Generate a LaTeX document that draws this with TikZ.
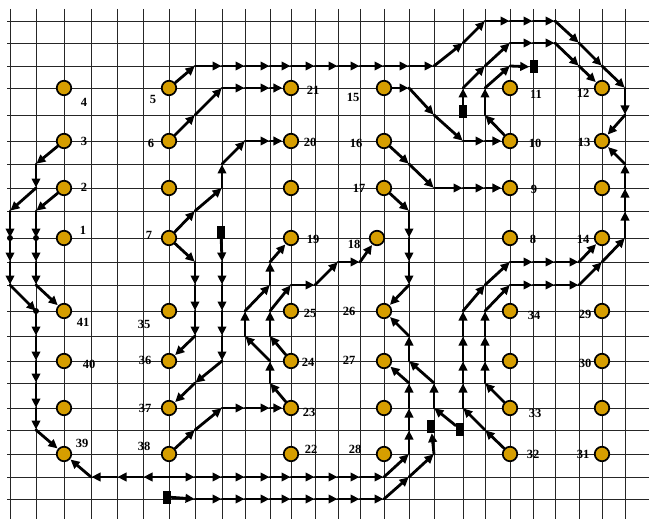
\documentclass[tikz,border=0pt]{standalone}
\usepackage{fontspec}
\setmainfont{Liberation Serif}
\usetikzlibrary{arrows.meta}
\definecolor{gold}{HTML}{D69E00}
\pgfdeclarelayer{gridl}
\pgfdeclarelayer{routel}
\pgfsetlayers{gridl,routel,main}
\newcommand\troute[1]{\foreach \pa [count=\cnt, remember=\pa as \pb] in {#1} {\ifnum\cnt>1 \draw[seg] (\pb) -- (\pa);\fi}}
\newcommand\mknode[4]{\node[pt] (n#1) at (#2) {}; \node[lbl] (l#1) at ([shift={(#3,#4)}]#2) {#1};}
\begin{document}
\begin{tikzpicture}[x=1pt,y=-1pt,
  gridline/.style={line width=0.9pt, black!85},
  seg/.style={line width=2.8pt, line cap=round, -{Triangle[length=9pt,width=8.5pt]}, shorten >=0.5pt},
  pt/.style={circle, draw=black, line width=1.7pt, fill=gold, minimum size=14.5pt, inner sep=0pt},
  lbl/.style={font=\bfseries\fontsize{12.5}{12.5}\selectfont, inner sep=0pt},
  blk/.style={fill=black, minimum width=8pt, minimum height=13pt, inner sep=0pt},
  jdot/.style={circle, fill=black, minimum size=6pt, inner sep=0pt}]
\useasboundingbox (0,0) rectangle (649,519);
\def\xs{10,36,64,91,117,143,169,195,222,245,270,291,315,338,360,384,409,434,463,485,510,533,555,579,602,625}
\def\ys{21,43,66,88,115,141,164,188,211,238,262,285,311,336,361,383,408,430,454,477,499}
\foreach \x [count=\i from 0] in \xs {\foreach \y [count=\j from 0] in \ys {\coordinate (g\i-\j) at (\x,\y);}}
\begin{pgfonlayer}{gridl}
\foreach \x in \xs {\draw[gridline] (\x,9) -- (\x,519);}
\foreach \y in \ys {\draw[gridline] (7,\y) -- (649,\y);}
\end{pgfonlayer}
% nodes column 2
\mknode{4}{g2-3}{20}{14}
\mknode{3}{g2-5}{20}{0}
\mknode{2}{g2-7}{20}{-1}
\mknode{1}{g2-9}{19}{-8}
\mknode{41}{g2-12}{19}{11}
\mknode{40}{g2-14}{25}{3}
\node[pt] (u1) at (g2-16) {};
\mknode{39}{g2-18}{18}{-11}
% column 6
\mknode{5}{g6-3}{-16}{11}
\mknode{6}{g6-5}{-18}{2}
\node[pt] (u2) at (g6-7) {};
\mknode{7}{g6-9}{-20}{-3}
\mknode{35}{g6-12}{-25}{13}
\mknode{36}{g6-14}{-24}{-1}
\mknode{37}{g6-16}{-24}{0}
\mknode{38}{g6-18}{-25}{-8}
% column 11
\mknode{21}{g11-3}{22}{2}
\mknode{20}{g11-5}{19}{1}
\node[pt] (u3) at (g11-7) {};
\mknode{19}{g11-9}{22}{1}
\mknode{25}{g11-12}{19}{2}
\mknode{24}{g11-14}{17}{1}
\mknode{23}{g11-16}{18}{4}
\mknode{22}{g11-18}{20}{-5}
% column 15
\mknode{15}{g15-3}{-31}{9}
\mknode{16}{g15-5}{-28}{2}
\mknode{17}{g15-7}{-25}{0}
\node[pt] (n18) at ([xshift=-7pt]g15-9) {};
\node[lbl] (l18) at ([shift={(-30,6)}]g15-9) {18};
\mknode{26}{g15-12}{-35}{0}
\mknode{27}{g15-14}{-35}{-1}
\node[pt] (u4) at (g15-16) {};
\mknode{28}{g15-18}{-29}{-5}
% column 20
\mknode{11}{g20-3}{26}{6}
\mknode{10}{g20-5}{25}{2}
\mknode{9}{g20-7}{24}{1}
\mknode{8}{g20-9}{23}{1}
\mknode{34}{g20-12}{24}{4}
\node[pt] (u5) at (g20-14) {};
\mknode{33}{g20-16}{25}{5}
\mknode{32}{g20-18}{23}{0}
% column 24
\mknode{12}{g24-3}{-19}{5}
\mknode{13}{g24-5}{-18}{1}
\node[pt] (u6) at (g24-7) {};
\mknode{14}{g24-9}{-19}{1}
\mknode{29}{g24-12}{-17}{3}
\mknode{30}{g24-14}{-17}{2}
\node[pt] (u7) at (g24-16) {};
\mknode{31}{g24-18}{-19}{0}
% start / end blocks
\node[blk] (r1) at ([shift={(-2,-2)}]g6-20) {};
\node[blk] (r2) at ([shift={(-1,-6)}]g8-9) {};
\node[blk] (r3) at ([shift={(0,-3)}]g18-4) {};
\node[blk] (r4) at ([shift={(1,1)}]g21-2) {};
\node[blk] (r5) at ([shift={(-3,-4)}]g17-17) {};
\node[blk] (r6) at ([shift={(-3,-1)}]g18-17) {};
% junction dots
\node[jdot] (d1) at (g0-9) {};
\node[jdot] (d2) at (g1-9) {};
\node[jdot] (d3) at (g1-12) {};
\begin{pgfonlayer}{routel}
\troute{n5,g7-2,g8-2,g9-2,g10-2,g11-2,g12-2,g13-2,g14-2,g15-2,g16-2,g17-2,g18-1,g19-0,g20-0,g21-0,g22-0,g23-1,g24-2,g25-3,g25-4,n13}
\troute{n6,g7-4,g8-3,g9-3,g10-3,n21}
\troute{n7,g7-8,g8-7,g8-6,g9-5,g10-5,n20}
\troute{n7,g7-10,g7-11,g7-12,g7-13,n36}
\troute{r2,g8-10,g8-11,g8-12,g8-13,g8-14,g7-15,n37}
\troute{n38,g7-17,g8-16,g9-16,g10-16,n23}
\troute{n23,g10-15,g10-14,g9-13,g9-12,g10-11,g10-10,n19}
\troute{n24,g10-13,g10-12,g11-11,g12-11,g13-10,g14-10,n18}
\troute{g6-19,g5-19,g4-19,g3-19,n39}
\troute{g6-19,g7-19,g8-19,g9-19,g10-19,g11-19,g12-19,g13-19,g14-19,g15-19,g16-18,g16-17,g16-16,g16-15,n27}
\troute{r1,g7-20,g8-20,g9-20,g10-20,g11-20,g12-20,g13-20,g14-20,g15-20,g16-19,g17-18,r5}
\troute{r6,g17-16,g17-15,g16-14,g16-13,n26}
\troute{n32,g19-17,g18-16,g18-15,g18-14,g18-13,g18-12,g19-11,g20-10,g21-10,g22-10,g23-10,n14}
\troute{n33,g19-15,g19-14,g19-13,g19-12,g20-11,g21-11,g22-11,g23-11,g24-10,g25-9,g25-8,g25-7,g25-6,n13}
\troute{n17,g16-8,g16-9,g16-10,g16-11,n26}
\troute{n16,g16-6,g17-7,g18-7,g19-7,n9}
\troute{n15,g16-3,g17-4,g18-5,g19-5,n10}
\troute{r3,g18-3,g19-2,g20-1,g21-1,g22-1,g23-2,n12}
\troute{n10,g19-4,g19-3,g20-2,r4}
\troute{n3,g1-6,g1-7,g0-8,g0-9,g0-10,g0-11,g1-12,g1-13,g1-14,g1-15,g1-16,g1-17,n39}
\troute{n2,g1-8,g1-9,g1-10,g1-11,n41}
\end{pgfonlayer}
\end{tikzpicture}
\end{document}
